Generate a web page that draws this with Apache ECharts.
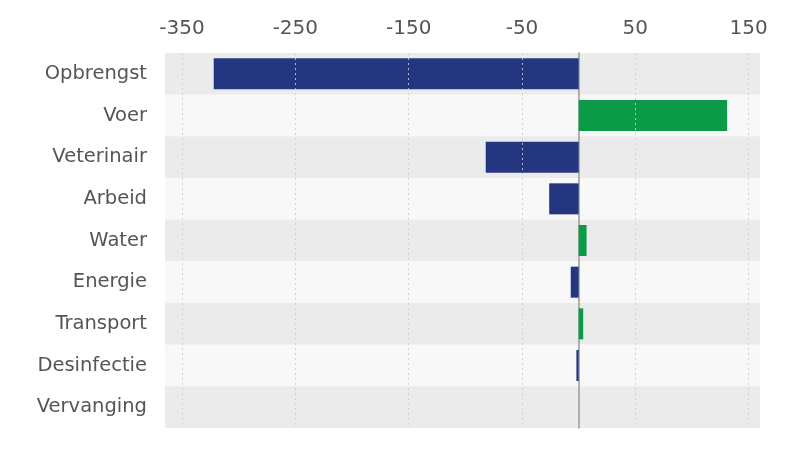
<!DOCTYPE html>
<html>
<head>
<meta charset="utf-8">
<script src="https://cdn.jsdelivr.net/npm/echarts@6/dist/echarts.min.js"></script>
<style>
  html, body { margin: 0; padding: 0; background: #fff; }
  #chart { width: 792px; height: 457px; }
</style>
</head>
<body>
<div id="chart"></div>
<script>
var categories = ['Opbrengst', 'Voer', 'Veterinair', 'Arbeid', 'Water', 'Energie', 'Transport', 'Desinfectie', 'Vervanging']
var values = [-322, 131, -82, -26, 7, -7, 4, -2, 0]
var tickValues = [-350, -250, -150, -50, 50, 150]

var chart = echarts.init(document.getElementById('chart'))
var textFont = '"DejaVu Sans", sans-serif'

chart.setOption({
  animation: false,
  grid: { left: 165, right: 32, top: 53, bottom: 29 },
  xAxis: {
    type: 'value',
    position: 'top',
    min: -365,
    max: 160,
    axisLine: { show: false },
    axisTick: { show: false },
    splitLine: { show: false },
    axisLabel: {
      customValues: tickValues,
      color: '#555',
      fontSize: 20,
      fontFamily: textFont,
      margin: 14
    }
  },
  yAxis: {
    type: 'category',
    inverse: true,
    data: categories,
    axisTick: { show: false },
    axisLine: { show: true, onZero: true, lineStyle: { color: '#9a9a9a', width: 1.5 } },
    axisLabel: {
      color: '#555',
      fontSize: 19.5,
      fontFamily: textFont,
      margin: 18
    },
    splitArea: {
      show: true,
      areaStyle: { color: ['#ebebeb', '#f8f8f8'] }
    }
  },
  series: [
    {
      type: 'bar',
      data: values,
      barWidth: 31,
      itemStyle: {
        color: function(p) {
          return p.value < 0 ? '#253680' : '#0a9a48'
        }
      },
      markLine: {
        silent: true,
        symbol: 'none',
        label: { show: false },
        lineStyle: { color: 'rgba(205,205,215,0.85)', type: [2, 3], width: 1 },
        data: tickValues.map(function(v) { return { xAxis: v } })
      }
    }
  ]
})
</script>
</body>
</html>
